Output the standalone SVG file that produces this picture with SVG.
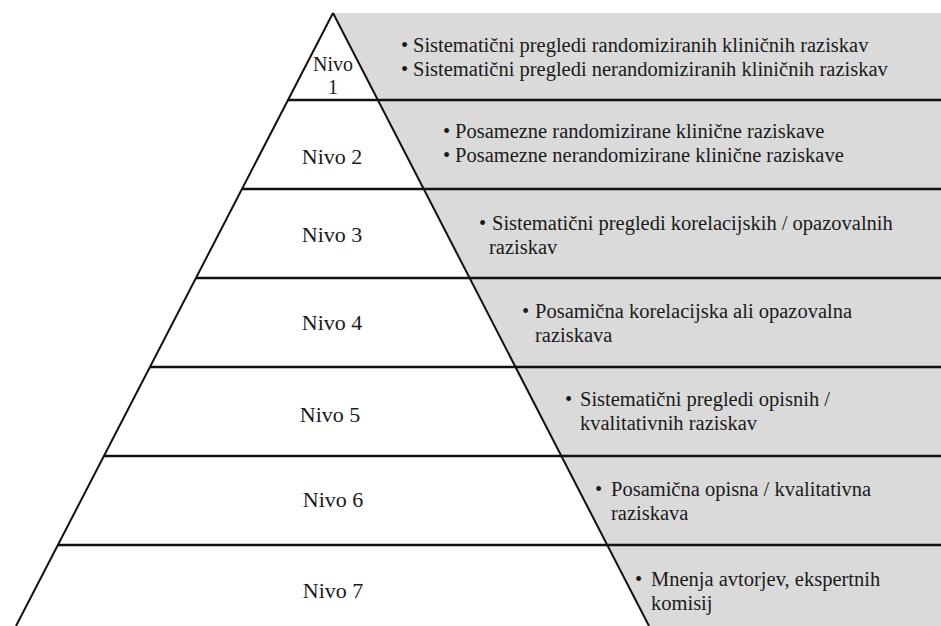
<svg xmlns="http://www.w3.org/2000/svg" width="941" height="626" viewBox="0 0 941 626">
<style>
.bg{fill:#ffffff}
.shade{fill:#dadada;stroke:none}
.edge{stroke:#111;stroke-width:2;fill:none}
.rule{stroke:#111;stroke-width:2.4;fill:none}
.lvl{font-family:"Liberation Serif","Times New Roman",serif;font-size:22px;fill:#1a1a1a;text-anchor:middle}
.lvl1{font-size:20px}
.txt{font-family:"Liberation Serif","Times New Roman",serif;font-size:20.5px;fill:#1a1a1a}
</style>
<rect class="bg" x="0" y="0" width="941" height="626"/>
<g id="shading">
<polygon class="shade" points="333,13 941,13 941,626 649,626"/>
</g>
<g id="connectors">
<line class="rule" x1="288" y1="100" x2="941" y2="100"/>
<line class="rule" x1="242" y1="189" x2="941" y2="189"/>
<line class="rule" x1="196" y1="278" x2="941" y2="278"/>
<line class="rule" x1="150" y1="367" x2="941" y2="367"/>
<line class="rule" x1="104" y1="456" x2="941" y2="456"/>
<line class="rule" x1="58" y1="545" x2="941" y2="545"/>
<line class="edge" x1="333" y1="13" x2="16" y2="626"/>
<line class="edge" x1="333" y1="13" x2="649" y2="626"/>
</g>
<g id="level1">
<text class="lvl lvl1" x="333" y="71">Nivo</text>
<text class="lvl lvl1" x="333" y="94">1</text>
<text class="txt" y="52"><tspan x="401">•</tspan><tspan x="413">Sistematični pregledi randomiziranih kliničnih raziskav</tspan></text>
<text class="txt" y="76"><tspan x="401">•</tspan><tspan x="413">Sistematični pregledi nerandomiziranih kliničnih raziskav</tspan></text>
</g>
<g id="level2">
<text class="lvl" x="332" y="164">Nivo 2</text>
<text class="txt" y="138"><tspan x="443">•</tspan><tspan x="455">Posamezne randomizirane klinične raziskave</tspan></text>
<text class="txt" y="162"><tspan x="443">•</tspan><tspan x="455">Posamezne nerandomizirane klinične raziskave</tspan></text>
</g>
<g id="level3">
<text class="lvl" x="332" y="242">Nivo 3</text>
<text class="txt" y="230"><tspan x="479">•</tspan><tspan x="492">Sistematični pregledi korelacijskih / opazovalnih</tspan></text>
<text class="txt" x="489" y="254">raziskav</text>
</g>
<g id="level4">
<text class="lvl" x="332" y="330">Nivo 4</text>
<text class="txt" y="318"><tspan x="522">•</tspan><tspan x="535">Posamična korelacijska ali opazovalna</tspan></text>
<text class="txt" x="535" y="342">raziskava</text>
</g>
<g id="level5">
<text class="lvl" x="330" y="422">Nivo 5</text>
<text class="txt" y="406"><tspan x="565">•</tspan><tspan x="580">Sistematični pregledi opisnih /</tspan></text>
<text class="txt" x="580" y="430">kvalitativnih raziskav</text>
</g>
<g id="level6">
<text class="lvl" x="333" y="507">Nivo 6</text>
<text class="txt" y="496"><tspan x="595">•</tspan><tspan x="611">Posamična opisna / kvalitativna</tspan></text>
<text class="txt" x="611" y="520">raziskava</text>
</g>
<g id="level7">
<text class="lvl" x="333" y="598">Nivo 7</text>
<text class="txt" y="586"><tspan x="635">•</tspan><tspan x="651">Mnenja avtorjev, ekspertnih</tspan></text>
<text class="txt" x="651" y="610">komisij</text>
</g>
</svg>
